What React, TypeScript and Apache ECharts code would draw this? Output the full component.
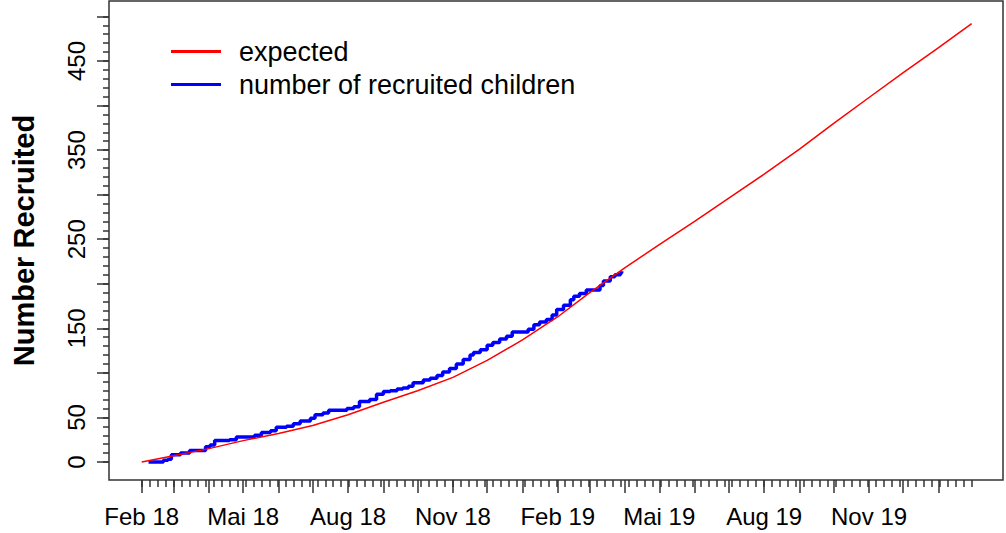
import React, { useEffect, useRef } from "react";
import * as echarts from "echarts";

// ---- Data ----
const MONTHS_DE = ["Jan", "Feb", "Mär", "Apr", "Mai", "Jun", "Jul", "Aug", "Sep", "Okt", "Nov", "Dez"];

const expectedDates = [
  "2018-02-01", "2018-03-01", "2018-04-01", "2018-05-01", "2018-06-01", "2018-07-01",
  "2018-08-01", "2018-09-01", "2018-10-01", "2018-11-01", "2018-12-01", "2019-01-01",
  "2019-02-01", "2019-03-01", "2019-04-01", "2019-05-01", "2019-06-01", "2019-07-01",
  "2019-08-01", "2019-09-01", "2019-10-01", "2019-11-01", "2019-12-01", "2020-01-01",
  "2020-01-30",
];
const expectedValues = [
  0, 7, 15, 24, 32, 41,
  53, 67, 80, 95, 114, 137,
  163, 190, 218, 244, 270, 296,
  323, 351, 380, 409, 437, 465,
  492,
];

const recruitedDates = [
  "2018-02-07", "2018-02-20", "2018-02-24", "2018-02-27", "2018-03-07", "2018-03-15",
  "2018-03-29", "2018-04-02", "2018-04-06", "2018-04-19", "2018-04-25", "2018-05-11",
  "2018-05-17", "2018-05-25", "2018-05-30", "2018-06-08", "2018-06-14", "2018-06-20",
  "2018-06-29", "2018-07-03", "2018-07-10", "2018-07-15", "2018-07-31", "2018-08-06",
  "2018-08-11", "2018-08-20", "2018-08-26", "2018-09-01", "2018-09-07", "2018-09-13",
  "2018-09-18", "2018-09-23", "2018-09-27", "2018-10-06", "2018-10-12", "2018-10-18",
  "2018-10-23", "2018-10-29", "2018-11-04", "2018-11-10", "2018-11-16", "2018-11-19",
  "2018-11-25", "2018-12-01", "2018-12-06", "2018-12-12", "2018-12-18", "2018-12-23",
  "2019-01-06", "2019-01-11", "2019-01-16", "2019-01-22", "2019-01-27", "2019-01-31",
  "2019-02-06", "2019-02-12", "2019-02-15", "2019-02-20", "2019-02-26", "2019-03-10",
  "2019-03-13", "2019-03-19", "2019-03-23", "2019-03-28", "2019-03-29",
];
const recruitedValues = [
  0, 2, 3, 8, 10, 13,
  17, 19, 24, 25, 28, 30,
  33, 35, 39, 40, 43, 46,
  49, 53, 55, 58, 60, 62,
  68, 70, 76, 79, 80, 82,
  83, 85, 89, 92, 94, 97,
  101, 105, 110, 115, 120, 123,
  126, 131, 134, 138, 141, 146,
  149, 154, 157, 160, 165, 171,
  176, 182, 186, 189, 193, 198,
  203, 208, 210, 212, 214,
];

const xLabelDates = [
  "2018-02-01", "2018-05-01", "2018-08-01", "2018-11-01",
  "2019-02-01", "2019-05-01", "2019-08-01", "2019-11-01",
];
const yLabelValues = [0, 50, 150, 250, 350, 450];
const yMajorTicks = [0, 50, 100, 150, 200, 250, 300, 350, 400, 450, 500];

// ---- helpers ----
const DAY = 86400000;
function ts(s: string): number {
  const [y, m, d] = s.split("-").map(Number);
  return Date.UTC(y, m - 1, d);
}
const START = ts("2018-02-01");
const TICK_END = ts("2020-01-30");
const X_MIN = START - 28.7 * DAY;
const X_MAX = START + 755.5 * DAY;
const Y_MIN = -20.2;
const Y_MAX = 517.3;

const monthTicks: number[] = [];
for (let i = 0; i < 24; i++) monthTicks.push(Date.UTC(2018, 1 + i, 1));
const weekTicks: number[] = [];
for (let t = START; t <= TICK_END; t += 7 * DAY) weekTicks.push(t);
const yMinorTicks: number[] = [];
for (let v = 0; v <= 500; v += 10) yMinorTicks.push(v);

const FONT = "'Liberation Sans', Arial, Helvetica, sans-serif";
const AX = "#333";

export default function App() {
  const ref = useRef<HTMLDivElement>(null);
  useEffect(() => {
    document.body.style.margin = "0";
    if (!ref.current) return;
    const chart = echarts.init(ref.current, null, { renderer: "svg" });
    const expData = expectedDates.map((d, i) => [ts(d), expectedValues[i]]);
    const recData = recruitedDates.map((d, i) => [ts(d), recruitedValues[i]]);
    chart.setOption({
      animation: false,
      backgroundColor: "#fff",
      grid: {
        left: 109, top: 1, width: 894, height: 479,
        show: true, borderColor: AX, borderWidth: 1.5, backgroundColor: "transparent",
      },
      legend: {
        left: 166, top: 33, orient: "vertical",
        itemWidth: 50, itemHeight: 3, itemGap: 6, icon: "rect",
        selectedMode: false,
        data: ["expected", "number of recruited children"],
        textStyle: { fontSize: 27, color: "#000", fontFamily: FONT, padding: [0, 0, 0, 13], lineHeight: 26 },
      },
      xAxis: [
        {
          type: "value", min: X_MIN, max: X_MAX, position: "bottom", gridIndex: 0,
          axisLine: { show: false, onZero: false }, splitLine: { show: false },
          axisTick: { show: true, customValues: monthTicks, length: 13, lineStyle: { color: AX, width: 1.5 } },
          axisLabel: {
            show: true, customValues: xLabelDates.map(ts), fontSize: 24, color: "#000", fontFamily: FONT, margin: 24,
            formatter: (v: number) => {
              const d = new Date(v);
              return MONTHS_DE[d.getUTCMonth()] + " " + String(d.getUTCFullYear()).slice(2);
            },
          },
        },
        {
          type: "value", min: X_MIN, max: X_MAX, position: "bottom", gridIndex: 0,
          axisLine: { show: false, onZero: false }, splitLine: { show: false },
          axisTick: { show: true, customValues: weekTicks, length: 7, lineStyle: { color: AX, width: 1.5 } },
          axisLabel: { show: false },
        },
      ],
      yAxis: [
        {
          type: "value", min: Y_MIN, max: Y_MAX, position: "left", gridIndex: 0,
          axisLine: { show: false, onZero: false }, splitLine: { show: false },
          axisTick: { show: true, customValues: yMajorTicks, length: 12, lineStyle: { color: AX, width: 1.5 } },
          axisLabel: {
            show: true, customValues: yLabelValues, rotate: 90, fontSize: 24, color: "#000", fontFamily: FONT, margin: 21,
          },
          name: "Number Recruited", nameLocation: "middle", nameRotate: 90, nameGap: 71,
          nameTextStyle: { fontSize: 29, fontWeight: "bold", color: "#000", fontFamily: FONT },
        },
        {
          type: "value", min: Y_MIN, max: Y_MAX, position: "left", gridIndex: 0,
          axisLine: { show: false, onZero: false }, splitLine: { show: false },
          axisTick: { show: true, customValues: yMinorTicks, length: 6, lineStyle: { color: AX, width: 1.5 } },
          axisLabel: { show: false },
        },
      ],
      series: [
        {
          name: "number of recruited children", type: "line", step: "end", data: recData,
          xAxisIndex: 0, yAxisIndex: 0, symbol: "none",
          lineStyle: { color: "#0000ff", width: 3.5 }, itemStyle: { color: "#0000ff" },
        },
        {
          name: "expected", type: "line", data: expData,
          xAxisIndex: 0, yAxisIndex: 0, symbol: "none",
          lineStyle: { color: "#ff0000", width: 1.5 }, itemStyle: { color: "#ff0000" },
        },
      ],
    });
    return () => chart.dispose();
  }, []);
  return <div ref={ref} style={{ width: 1006, height: 533 }} />;
}
